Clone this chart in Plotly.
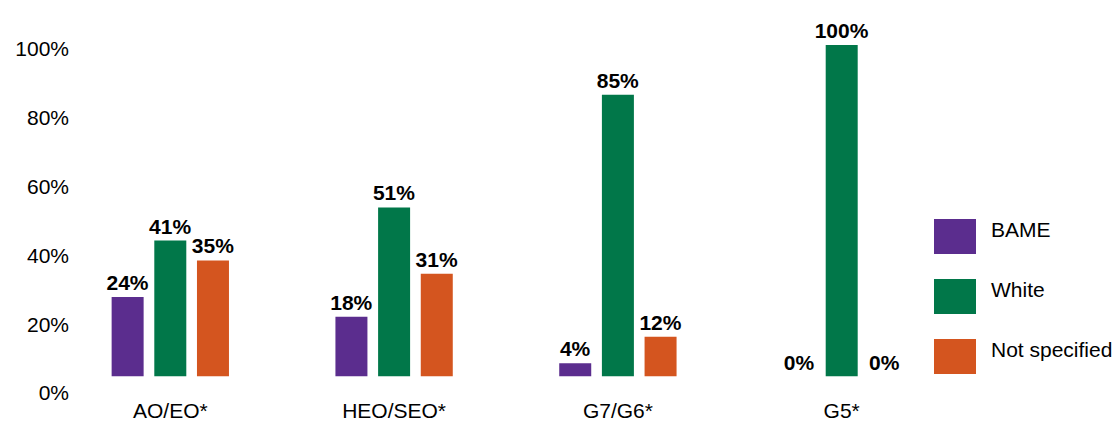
import plotly.graph_objects as go

# Share of staff by ethnicity within each grade band
grades = ["AO/EO*", "HEO/SEO*", "G7/G6*", "G5*"]
bame = [24, 18, 4, 0]
white = [41, 51, 85, 100]
not_specified = [35, 31, 12, 0]

series_names = ["BAME", "White", "Not specified"]
series_values = [bame, white, not_specified]
series_colors = ["#5B2D8E", "#017749", "#D4551F"]

axis_ticks = [0, 20, 40, 60, 80, 100]
axis_tick_labels = ["0%", "20%", "40%", "60%", "80%", "100%"]

W, H = 1119, 428
FONT = "Liberation Sans, Arial, sans-serif"


def px_x(px):
    return px / W


def px_y(py):
    return 1 - py / H


fig = go.Figure()

for name, vals, color in zip(series_names, series_values, series_colors):
    fig.add_trace(go.Bar(
        x=grades,
        y=vals,
        name=name,
        marker=dict(color=color, line=dict(width=0)),
        texttemplate="%{y:.0f}%",
        textposition="outside",
        constraintext="none",
        cliponaxis=False,
        textfont=dict(family=FONT, size=21, color="#000000", weight="bold"),
        showlegend=False,
        hoverinfo="skip",
    ))

# empty trace so the percentage scale axis gets its own subplot
fig.add_trace(go.Scatter(x=[], y=[], yaxis="y2", showlegend=False, hoverinfo="skip"))

# legend: large colour swatches with labels
shapes = []
annotations = []
for i, (name, color) in enumerate(zip(series_names, series_colors)):
    top = 219 + i * 60
    shapes.append(dict(
        type="rect", xref="paper", yref="paper",
        x0=px_x(934), x1=px_x(976), y0=px_y(top + 35), y1=px_y(top),
        fillcolor=color, line=dict(width=0),
    ))
    annotations.append(dict(
        xref="paper", yref="paper", x=px_x(989), y=px_y(top + 10),
        text=name, showarrow=False, xanchor="left", yanchor="middle",
        font=dict(family=FONT, size=21, color="#000000"),
    ))

fig.update_layout(
    width=W, height=H,
    margin=dict(l=0, r=0, t=0, b=0, pad=0),
    paper_bgcolor="#FFFFFF",
    plot_bgcolor="rgba(0,0,0,0)",
    barmode="group",
    bargap=0.428,
    bargroupgap=0.25,
    font=dict(family=FONT, size=21, color="#000000"),
    shapes=shapes,
    annotations=annotations,
    xaxis=dict(
        domain=[px_x(58.4), px_x(953.6)],
        type="category",
        showline=False, showgrid=False, zeroline=False,
        ticks="",
        ticklabelstandoff=19,
        tickfont=dict(family=FONT, size=21, color="#000000"),
        automargin=False,
        fixedrange=True,
    ),
    yaxis=dict(
        domain=[px_y(376.5), px_y(45)],
        range=[0, 100],
        visible=False,
        showgrid=False, zeroline=False,
        automargin=False,
        fixedrange=True,
    ),
    yaxis2=dict(
        domain=[px_y(400), px_y(40)],
        range=[-2.035, 102.62],
        anchor="free",
        position=px_x(69),
        tickmode="array",
        tickvals=axis_ticks,
        ticktext=axis_tick_labels,
        showline=False, showgrid=False, zeroline=False,
        ticks="",
        tickfont=dict(family=FONT, size=21, color="#000000"),
        automargin=False,
        fixedrange=True,
    ),
)

fig.write_html("out.html")
